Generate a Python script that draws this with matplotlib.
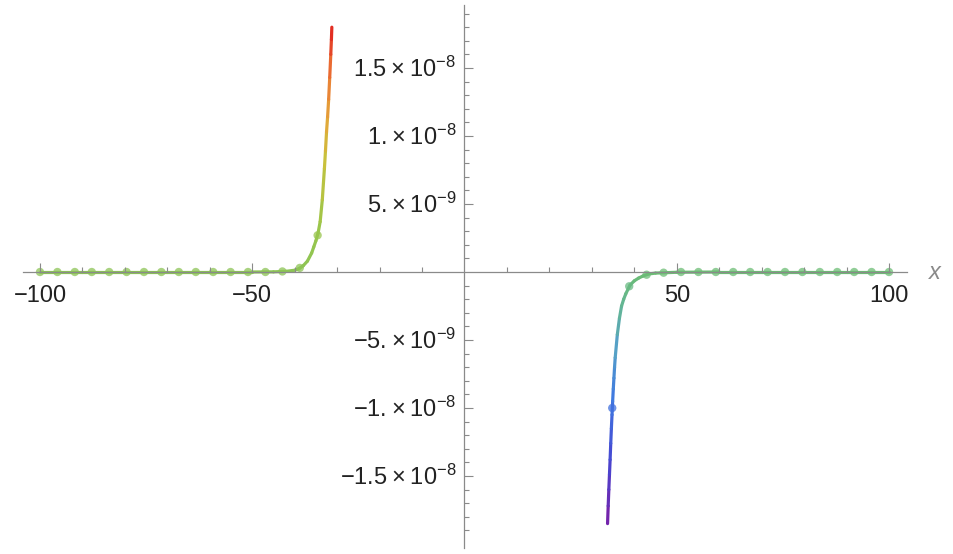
import numpy as np
import matplotlib
matplotlib.use("Agg")
import matplotlib.pyplot as plt
from matplotlib.collections import LineCollection
from matplotlib.colors import LinearSegmentedColormap, Normalize
from matplotlib.transforms import ScaledTranslation

plt.rcParams['font.family'] = ['Liberation Sans', 'DejaVu Sans']
plt.rcParams['mathtext.default'] = 'regular'

# curve, left branch
left_x = [-100, -90, -80, -70, -60, -50, -45, -42, -40, -39, -38, -37, -36, -35.5, -35,
          -34.5, -34, -33.5, -33, -32.75, -32.5, -32.25, -32, -31.75, -31.5, -31.35, -31.25]
left_y = [0, 0, 0, 0, 0, 0, 1e-11, 5e-11, 1.3e-10, 2.4e-10, 4.6e-10, 8.0e-10, 1.40e-9, 1.85e-9, 2.3e-9,
          2.85e-9, 3.7e-9, 5.3e-9, 7.6e-9, 8.9e-9, 1.03e-8, 1.14e-8, 1.27e-8, 1.43e-8, 1.6e-8,
          1.71e-8, 1.8e-8]

# curve, right branch
right_x = [33.7, 33.85, 34.0, 34.15, 34.3, 34.45, 34.6, 34.75, 34.9, 35.05, 35.2, 35.35, 35.5,
           36.0, 36.5, 37.0, 37.5, 38.0, 39.0, 40.0, 41.0, 42.0, 43.3, 45, 50, 60, 70, 80, 90, 100]
right_y = [-1.85e-8, -1.72e-8, -1.6e-8, -1.49e-8, -1.38e-8, -1.26e-8, -1.15e-8, -1.05e-8, -9.5e-9,
           -8.6e-9, -7.8e-9, -7.0e-9, -6.3e-9, -4.6e-9, -3.4e-9, -2.5e-9, -2.0e-9, -1.6e-9,
           -9.6e-10, -6.5e-10, -4.5e-10, -3e-10, -1.5e-10, -8e-11, -2e-11, 0, 0, 0, 0, 0]

# sample dots
dot_left_x = [-100, -95.9, -91.8, -87.8, -83.7, -79.6, -75.5, -71.4, -67.3, -63.3, -59.2,
              -55.1, -51.0, -46.9, -42.9, -38.8, -34.6]
dot_left_y = [0, 0, 0, 0, 0, 0, 0, 0, 0, 0, 0, 0, 0, 0, 4e-11, 3e-10, 2.7e-9]
dot_right_x = [34.8, 38.8, 42.9, 46.9, 51.0, 55.1, 59.2, 63.3, 67.3, 71.4, 75.5, 79.6, 83.7,
               87.8, 91.8, 95.9, 100]
dot_right_y = [-1.0e-8, -1.05e-9, -2e-10, -5e-11, 0, 0, 0, 0, 0, 0, 0, 0, 0, 0, 0, 0, 0]

x_major = [-100, -50, 50, 100]
x_labels = ['\u2212100', '\u221250', '50', '100']
y_major = [-1.5e-8, -1e-8, -5e-9, 5e-9, 1e-8, 1.5e-8]
y_labels = ['\u22121.5\u2009\u00d7\u200910$^{-8}$', '\u22121.\u2009\u00d7\u200910$^{-8}$',
            '\u22125.\u2009\u00d7\u200910$^{-9}$', '5.\u2009\u00d7\u200910$^{-9}$',
            '1.\u2009\u00d7\u200910$^{-8}$', '1.5\u2009\u00d7\u200910$^{-8}$']

left_cmap = LinearSegmentedColormap.from_list('up', [
    (0, '#8cc455'), (0.2, '#9cc64a'), (0.45, '#c8c23c'), (0.62, '#e2a83a'),
    (0.82, '#ec7434'), (1, '#e0231f')])
right_cmap = LinearSegmentedColormap.from_list('down', [
    (0, '#6cbd74'), (0.15, '#62b49a'), (0.3, '#55a0c8'), (0.5, '#3f78e0'),
    (0.75, '#4646d2'), (1, '#7a1fa6')])
left_norm = Normalize(0, 1.8e-8)
right_norm = Normalize(0, 1.85e-8)

fig = plt.figure(figsize=(9.54, 5.54), dpi=100)
ax = fig.add_axes([0, 0, 1, 1])


def branch(xs, ys, cmap, norm, sign):
    pts = np.column_stack([xs, ys])
    segs = np.stack([pts[:-1], pts[1:]], axis=1)
    mid = sign * (np.array(ys[:-1]) + np.array(ys[1:])) / 2
    lc = LineCollection(segs, colors=cmap(norm(mid)), linewidth=2.3,
                        capstyle='round', joinstyle='round', zorder=2)
    ax.add_collection(lc)


branch(left_x, left_y, left_cmap, left_norm, 1)
branch(right_x, right_y, right_cmap, right_norm, -1)

ax.scatter(dot_left_x, dot_left_y, s=36, c=left_cmap(left_norm(np.array(dot_left_y))),
           alpha=0.75, linewidths=0, zorder=2.1)
ax.scatter(dot_right_x, dot_right_y, s=36, c=right_cmap(right_norm(-np.array(dot_right_y))),
           alpha=0.75, linewidths=0, zorder=2.1)

ax.set_xlim(-109.42, 115.31)
ax.set_ylim(-2.0735e-8, 2.0e-8)

for side in ['top', 'right']:
    ax.spines[side].set_visible(False)
ax.spines['left'].set_position(('data', 0))
ax.spines['bottom'].set_position(('data', 0))
ax.spines['bottom'].set_bounds(-104, 104.2)
ax.spines['left'].set_bounds(-2.03e-8, 1.963e-8)
for side in ['left', 'bottom']:
    ax.spines[side].set_color('#8a8a8a')
    ax.spines[side].set_linewidth(0.9)
ax.set_axisbelow(False)
ax.patch.set_visible(False)

ax.set_xticks(x_major, labels=x_labels)
ax.set_xticks([v for v in range(-90, 100, 10) if v not in (-50, 0, 50)], minor=True)
ax.set_yticks(y_major, labels=y_labels)
ax.set_yticks([k * 1e-9 for k in range(-20, 20) if k % 5 != 0], minor=True)

ax.tick_params(which='both', direction='in', color='#8a8a8a', width=0.8,
               labelsize=17, labelcolor='#222222')
ax.tick_params(which='major', length=6.5)
ax.tick_params(which='minor', length=3.6)
ax.tick_params(axis='x', which='major', pad=9)
ax.tick_params(axis='y', which='major', pad=6)

# lift y labels a little so the mantissa sits on the tick
lift = ScaledTranslation(0, 1 / 100, fig.dpi_scale_trans)
for lab in ax.get_yticklabels():
    lab.set_transform(lab.get_transform() + lift)

ax.text(110.8, 0, 'x', style='italic', fontsize=17, color='#8a8a8a',
        ha='center', va='center')

fig.savefig('out.png', dpi=100)
